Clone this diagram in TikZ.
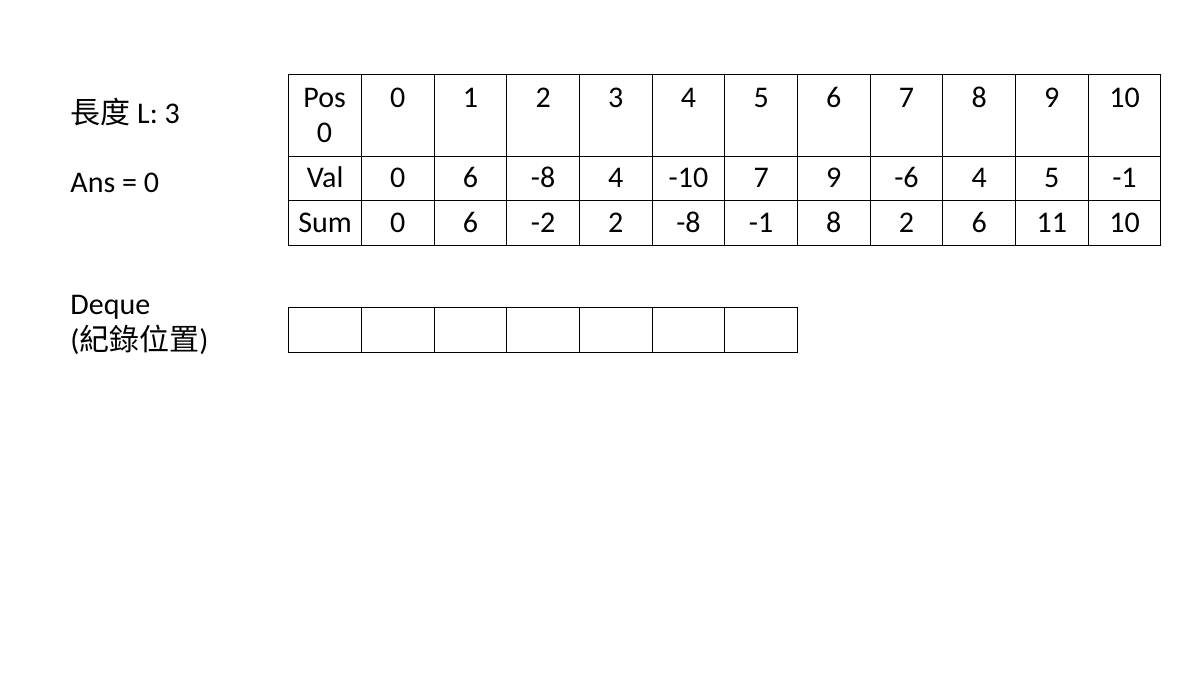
\documentclass[tikz,border=0pt]{standalone}
\usepackage{fontspec}
\setmainfont{Carlito}[Numbers=Lining]
\newfontfamily\cjk{Noto Sans CJK TC}

\begin{document}
\begin{tikzpicture}[x=0.5pt,y=-0.5pt,font=\fontsize{15}{17.5}\selectfont,
    cell/.style={draw,line width=0.5pt,anchor=north west,inner sep=0pt,minimum width=36.33pt,
      text height=10.5pt,text depth=1pt},
    num/.style={inner sep=0pt,text height=10.5pt,text depth=1pt}]
    \useasboundingbox (0,0) rectangle (1200,675);
    % left labels
    \node[anchor=base west,inner sep=0pt] at (70,123) (len) {{\cjk 長度} L: 3};
    \node[anchor=base west,inner sep=0pt] at (70,192) (ans) {Ans = 0};
    \node[anchor=north west,inner sep=0pt,align=left,font=\fontsize{15}{18}\selectfont] at (70,295) (dq) {Deque\\({\cjk 紀錄位置})};
    % table header column
    \node[cell,minimum height=40.85pt] at (288.3,74) (pos0) {};
    \node[cell,minimum height=22.15pt] at (288.3,155.7) (val0) {Val};
    \node[cell,minimum height=22.5pt] at (288.3,200) (sum0) {Sum};
    \node[align=center] at (324.6,115) {Pos\\0};
    % table columns
    \foreach \p/\v/\s [count=\i] in {0/0/0,1/6/6,2/-8/-2,3/4/2,4/-10/-8,5/7/-1,6/9/8,7/-6/2,8/4/6,9/5/11,10/-1/10} {
      \node[cell,minimum height=40.85pt] at (288.3+72.67*\i,74) (pos\i) {};
      \node[cell,minimum height=22.15pt] at (288.3+72.67*\i,155.7) (val\i) {\v};
      \node[cell,minimum height=22.5pt] at (288.3+72.67*\i,200) (sum\i) {\s};
      \node[num] at ([yshift=-12pt]pos\i.north) {\p};
    }
    % deque
    \foreach \i in {0,...,6}
      \node[cell,minimum height=22.2pt] at (288.3+72.67*\i,307.3) (dq\i) {};
\end{tikzpicture}
\end{document}
